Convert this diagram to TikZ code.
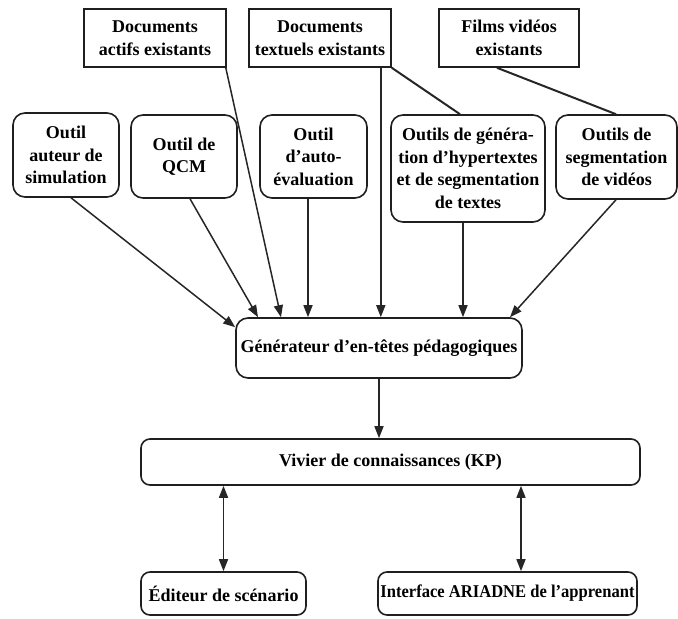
\documentclass[tikz,border=0pt]{standalone}
\usepackage{fontspec}
\usepackage{graphicx}
\setmainfont{Liberation Serif}
\usetikzlibrary{arrows.meta}
\begin{document}
\begin{tikzpicture}[x=1pt,y=-1pt,
  box/.style={draw=black!88, line width=1.6pt, inner sep=0pt, align=center,
    font=\bfseries\fontsize{18}{22.5}\selectfont},
  srcbox/.style={box},
  toolbox/.style={box, rounded corners=12pt},
  flatbox/.style={box, rounded corners=9pt},
  tip/.tip={Triangle[length=12pt,width=9pt]},
  arr/.style={draw=black!85, line width=1.5pt, -tip},
  link/.style={draw=black!85, line width=2pt},
  both/.style={draw=black!85, line width=1.5pt, tip-tip}]
\useasboundingbox (0,0) rectangle (678,619);

% existing resources
\node[srcbox, minimum width=142pt, minimum height=58pt] (da) at (155,38) {Documents\\actifs existants};
\node[srcbox, minimum width=142pt, minimum height=58pt] (dt) at (320,38) {Documents\\textuels existants};
\node[srcbox, minimum width=140pt, minimum height=58pt] (fv) at (509,38) {Films vidéos\\existants};

% authoring tools
\node[toolbox, minimum width=106pt, minimum height=84pt] (oa) at (66,155) {Outil\\auteur de\\simulation};
\node[toolbox, minimum width=106pt, minimum height=83pt] (oq) at (184,156.5) {Outil de\\QCM};
\node[toolbox, minimum width=107pt, minimum height=83pt] (oe) at (313.5,156.5) {Outil\\d’auto-\\évaluation};
\node[toolbox, minimum width=154pt, minimum height=107pt] (og) at (468,168.5) {Outils de généra-\\tion d’hypertextes\\et de segmentation\\de textes};
\node[toolbox, minimum width=121pt, minimum height=84pt] (os) at (616.5,157) {Outils de\\segmentation\\de vidéos};

% generator, knowledge pool, end-user tools
\node[toolbox, minimum width=286pt, minimum height=60pt] (gen) at (379,348) {Générateur d’en-têtes pédagogiques};
\node[flatbox, minimum width=499pt, minimum height=46pt] (viv) at (390.5,462) {Vivier de connaissances (KP)};
\node[flatbox, minimum width=165pt, minimum height=43pt] (ed) at (223.5,593.5) {Éditeur de scénario};
\node[flatbox, minimum width=259pt, minimum height=43pt] (int) at (507.5,593.5) {\scalebox{0.92}[1]{Interface ARIADNE de l’apprenant}};

% feeds into the generator
\draw[arr] ([xshift=5pt]oa.south) -- ([yshift=-10pt]gen.north west);
\draw[arr] ([xshift=6pt]oq.south) -- ([xshift=-121pt]gen.north);
\draw[arr] ([xshift=-1pt]da.south east) -- ([xshift=-98pt]gen.north);
\draw[arr] ([xshift=-5.5pt]oe.south) -- ([xshift=-5.5pt]oe.south |- gen.north);
\draw[arr] ([xshift=-11pt]dt.south east) -- ([xshift=-11pt]dt.south east |- gen.north);
\draw[arr] ([xshift=-5pt]og.south) -- ([xshift=-5pt]og.south |- gen.north);
\draw[arr] ([xshift=-0.5pt]os.south) -- ([xshift=131pt]gen.north);

% resources feeding the segmentation tools
\draw[link] (dt.south east) -- ([xshift=-8pt]og.north);
\draw[link] ([xshift=-12pt]fv.south) -- ([xshift=-0.5pt]os.north);

% generator to pool, pool to editors
\draw[arr] (gen.south) -- (gen.south |- viv.north);
\draw[both] (ed.north |- viv.south) -- (ed.north);
\draw[both] ([xshift=13.5pt]int.north |- viv.south) -- ([xshift=13.5pt]int.north);
\end{tikzpicture}
\end{document}
